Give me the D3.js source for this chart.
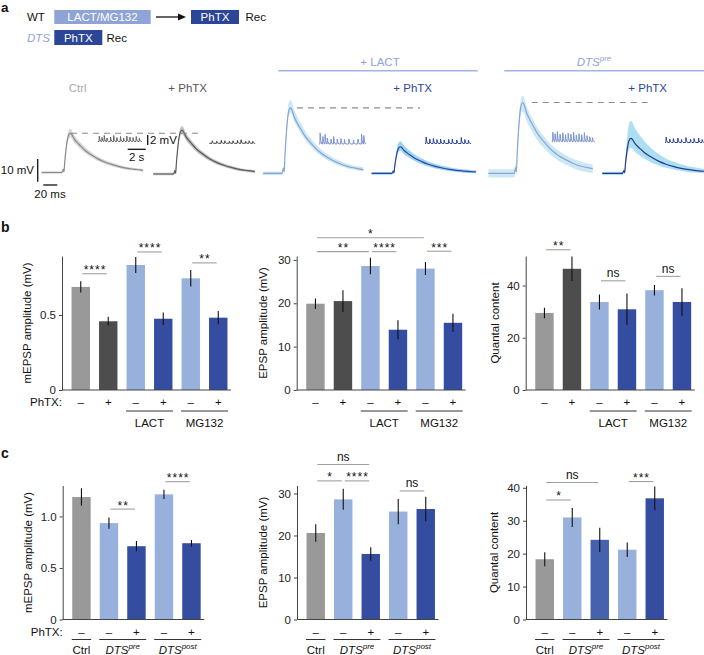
<!DOCTYPE html>
<html><head><meta charset="utf-8">
<script src="https://cdn.jsdelivr.net/npm/d3@7"></script>
<style>
body{margin:0;background:#fff}
svg{display:block}
text{font-family:"Liberation Sans",Arial,Helvetica,sans-serif}
</style>
</head><body>
<svg id="fig" width="704" height="655"></svg>
<script>
// ---------------- DATA ----------------
// panel b
const bPhTX = ["–","+","–","+","–","+"];
const bGroups = [["LACT",2,3],["MG132",4,5]];
const bMepsp = [0.687,0.458,0.833,0.475,0.744,0.482];
const bMepspErr = [0.037,0.030,0.053,0.042,0.055,0.044];
const bEpsp = [19.9,20.5,28.6,13.9,28.0,15.5];
const bEpspErr = [1.2,2.5,1.9,2.2,1.5,2.1];
const bQc = [29.5,46.4,33.7,30.9,38.2,33.7];
const bQcErr = [2.0,4.7,2.9,6.0,2.0,5.3];
const bMepspSig = [[0,1,"****",0.775],[2,3,"****",0.92],[4,5,"**",0.847]];
const bEpspSig = [[0,4,"*",35.1],[0,2,"**",31.9],[2,3,"****",31.9],[4,5,"***",32.0]];
const bQcSig = [[0,1,"**",53.7],[2,3,"ns",41.8],[4,5,"ns",43.5]];
const bMepspTicks = [0,0.5], bEpspTicks = [0,10,20,30], bQcTicks = [0,20,40];
// panel c
const cPhTX = ["–","–","+","–","+"];
const cGroups = [["Ctrl",0,0],["DTS|pre",1,2],["DTS|post",3,4]];
const cMepsp = [1.188,0.935,0.711,1.214,0.740];
const cMepspErr = [0.085,0.054,0.050,0.045,0.032];
const cEpsp = [20.6,28.6,15.6,25.7,26.3];
const cEpspErr = [2.1,2.5,1.6,3.0,2.9];
const cQc = [18.3,31.0,24.2,21.2,36.8];
const cQcErr = [2.1,2.9,3.7,2.2,3.6];
const cMepspSig = [[1,2,"**",1.071],[3,4,"****",1.337]];
const cEpspSig = [[0,2,"ns",36.9],[0,1,"*",33.0],[1,2,"****",33.0],[3,4,"ns",30.6]];
const cQcSig = [[0,2,"ns",41.6],[0,1,"*",36.3],[3,4,"***",41.9]];
const cMepspTicks = [0,0.5,1.0], cEpspTicks = [0,10,20,30], cQcTicks = [0,10,20,30,40];
// panel a: EPSP waveform (ms, fraction of peak)
const epspTime  = [-40,-31,-2,0,1,2,4,6,8,10,12,15,20,25,30,40,50,60,70,80,90,100,110,118];
const epspShape = [0,0,0,0.08,0.02,0.25,0.6,0.85,0.97,1,0.97,0.87,0.76,0.67,0.58,0.45,0.34,0.26,0.2,0.15,0.11,0.085,0.065,0.055];
const traceAmp   = [17.3,19.3,28.8,11.7,31.2,15.4];
const traceLo    = [16.0,18.0,27.5,10.5,29.0,12.0];
const traceHi    = [18.8,20.6,31.5,13.5,32.5,22.5];
const traceNoise = [0.5,0.5,0.8,0.6,1.8,0.7];
const traceStart = [-31,-31,-29,-31,-39,-31];
const traceEnd   = [114,114,114,118,111,118];
// mEPSP events: times (s) and amplitudes (mV)
const miniT = [
 [0.15,0.45,0.7,1.0,1.4,1.75,2.1,2.5,2.85,3.2,3.55,3.9,4.25,4.6],
 [0.3,0.8,1.3,1.7,2.2,2.6,3.1,3.5,4.0,4.4,4.8],
 [0.1,0.4,0.65,0.9,1.3,1.6,2.0,2.4,2.8,3.3,3.8,4.3,4.7,4.95],
 [0.1,0.5,0.9,1.3,1.7,2.1,2.6,3.0,3.5,4.0,4.4,4.8],
 [0.1,0.35,0.6,0.9,1.2,1.5,1.8,2.1,2.4,2.7,3.0,3.3,3.6,3.9,4.2,4.5],
 [0.1,0.5,0.9,1.4,1.8,2.3,2.8,3.2,3.7,4.1]];
const miniA = [
 [1.1,0.8,1.2,0.7,0.9,1.2,0.8,1.0,0.7,1.1,0.9,0.8,1.0,0.7],
 [0.5,0.4,0.6,0.5,0.4,0.5,0.6,0.7,0.4,0.5,0.4],
 [2.2,1.5,1.9,1.2,1.0,1.5,1.0,1.1,0.9,1.0,0.8,1.0,2.0,1.7],
 [1.3,0.9,1.0,0.8,0.9,0.7,0.8,0.9,0.7,1.2,0.8,0.7],
 [1.9,1.6,2.0,1.5,1.8,1.4,1.7,1.5,1.9,1.3,1.6,1.4,1.8,1.2,1.0,0.8],
 [1.1,0.7,0.8,0.9,0.6,1.0,0.7,0.8,0.9,0.6]];
const miniDur = [4.9,5.1,5.1,5.1,4.8,4.4];

// ---------------- STYLE / LAYOUT ----------------
const GRAY="#999999", DGRAY="#4d4d4d", LBLUE="#98b0dc", DBLUE="#354da0";
const bColors=[GRAY,DGRAY,LBLUE,DBLUE,LBLUE,DBLUE];
const cColors=[GRAY,LBLUE,DBLUE,LBLUE,DBLUE];
const cQcColors=[GRAY,LBLUE,"#4662ae",LBLUE,DBLUE];
const FS=11.5;
const svg=d3.select("#fig");

function txt(g,x,y,s,o={}){
  const t=g.append("text").attr("x",x).attr("y",y).attr("font-size",o.size||FS)
    .attr("fill",o.fill||"#111").attr("text-anchor",o.anchor||"start");
  if(o.weight) t.attr("font-weight",o.weight);
  if(o.italic) t.attr("font-style","italic");
  if(o.ls) t.attr("letter-spacing",o.ls);
  t.text(s); return t;
}
function dtsLabel(g,x,y,sup,anchor,fill){
  const t=g.append("text").attr("x",x).attr("y",y).attr("font-size",FS).attr("fill",fill||"#111")
    .attr("text-anchor",anchor||"middle").attr("font-style","italic");
  t.append("tspan").text("DTS");
  t.append("tspan").attr("font-size",8).attr("dy",-4.5).text(sup);
  return t;
}

// ---------------- PANEL LABELS ----------------
txt(svg,1,12,"a",{size:13.5,weight:"bold"});
txt(svg,1,232,"b",{size:14,weight:"bold"});
txt(svg,1,458,"c",{size:14,weight:"bold"});

// ---------------- PANEL a schematic ----------------
(function(){
  const g=svg.append("g");
  txt(g,27,21,"WT");
  g.append("rect").attr("x",54.3).attr("y",10).attr("width",96.4).attr("height",14).attr("fill","#8ea3d6");
  txt(g,102.5,21,"LACT/MG132",{anchor:"middle",fill:"#fff"});
  g.append("line").attr("x1",156).attr("x2",178).attr("y1",17).attr("y2",17).attr("stroke","#111").attr("stroke-width",1.3);
  g.append("path").attr("d","M178,13.5 L186,17 L178,20.5 Z").attr("fill","#111");
  g.append("rect").attr("x",191).attr("y",10).attr("width",48).attr("height",14).attr("fill","#2b4597");
  txt(g,215,21,"PhTX",{anchor:"middle",fill:"#fff"});
  txt(g,245.5,21,"Rec");
  txt(g,27,41.5,"DTS",{italic:true,fill:"#8ea3d6"});
  g.append("rect").attr("x",54.3).attr("y",30).attr("width",48).attr("height",15).attr("fill","#2b4597");
  txt(g,78.3,41.5,"PhTX",{anchor:"middle",fill:"#fff"});
  txt(g,106.5,41.5,"Rec");
})();

// ---------------- PANEL a traces ----------------
(function(){
  const g=svg.append("g");
  const stimX=[63.3,175,283.5,393.3,515.7,624];
  const baseY=[172.5,174,173.3,173.3,173.3,173.3];
  const lineCol=["#8a8a8a","#5a5a5a","#86a2d8","#2c45a0","#8aa4d6","#26398f"];
  const bandCol=["#d4d4d4","#bcbcbc","#c4e4f3","#8fd0ee","#c6e6f4","#a4dcf2"];
  const miniX=[97.7,209.3,319,425,551.7,665];
  const miniBase=[141.5,143.3,144,143.5,141.7,142.5];
  const miniCol=["#666","#444","#7b93d0","#2e44a0","#7b93d0","#2e44a0"];
  svg.append("defs").append("clipPath").attr("id","clipA").append("rect")
      .attr("x",0).attr("y",50).attr("width",704).attr("height",160);
  g.attr("clip-path","url(#clipA)");
  const pts=epspTime.map((t,i)=>[t,epspShape[i]]);
  traceAmp.forEach((amp,k)=>{
    const xs=d3.scaleLinear().domain([0,20]).range([stimX[k],stimX[k]+14]);
    const ys=d3.scaleLinear().domain([0,10]).range([baseY[k],baseY[k]-22.7]);
    const p=pts.filter(d=>d[0]>=traceStart[k]-9 && d[0]<=traceEnd[k]+4)
      .map(d=>[Math.min(Math.max(d[0],traceStart[k]),traceEnd[k]),d[1]]);
    const area=d3.area().x(d=>xs(d[0])).y0(d=>ys(d[1]*traceLo[k]-traceNoise[k]))
      .y1(d=>ys(d[1]*traceHi[k]+traceNoise[k])).curve(d3.curveMonotoneX);
    g.append("path").attr("d",area(p)).attr("fill",bandCol[k]).attr("opacity",0.9);
    const line=d3.line().x(d=>xs(d[0])).y(d=>ys(d[1]*amp)).curve(d3.curveMonotoneX);
    g.append("path").attr("d",line(p)).attr("fill","none").attr("stroke",lineCol[k]).attr("stroke-width",1.2);
  });
  const dashIdx=[0,2,4], dashX=[[71,200],[297,420],[531.7,650]];
  dashIdx.forEach((k,j)=>{
    const ys=d3.scaleLinear().domain([0,10]).range([baseY[k],baseY[k]-22.7]);
    g.append("line").attr("x1",dashX[j][0]).attr("x2",dashX[j][1]).attr("y1",ys(traceAmp[k])).attr("y2",ys(traceAmp[k]))
      .attr("stroke","#8c8c8c").attr("stroke-width",1.2).attr("stroke-dasharray","6,5");
  });
  miniT.forEach((ts,k)=>{
    const xs=d3.scaleLinear().domain([0,1]).range([miniX[k],miniX[k]+9]);
    const ys=d3.scaleLinear().domain([0,1]).range([miniBase[k],miniBase[k]-5]);
    const p=[[0,0]];
    ts.forEach((t,i)=>{const a=miniA[k][i];p.push([t,0],[t+0.03,a],[t+0.09,a*0.35],[t+0.2,0]);});
    p.push([miniDur[k],0]);
    g.append("path").attr("d",d3.line().x(d=>xs(d[0])).y(d=>ys(d[1]))(p))
      .attr("fill","none").attr("stroke",miniCol[k]).attr("stroke-width",1);
  });
  const sb=svg.append("g").attr("stroke","#111").attr("stroke-width",1.3);
  sb.append("line").attr("x1",37.7).attr("x2",37.7).attr("y1",159).attr("y2",181.7);
  sb.append("line").attr("x1",43.3).attr("x2",57.3).attr("y1",185).attr("y2",185);
  sb.append("line").attr("x1",147.7).attr("x2",147.7).attr("y1",135).attr("y2",145);
  sb.append("line").attr("x1",127.7).attr("x2",145.7).attr("y1",149.3).attr("y2",149.3);
  txt(svg,34,174,"10 mV",{anchor:"end"});
  txt(svg,50,198,"20 ms",{anchor:"middle"});
  txt(svg,150,144,"2 mV");
  txt(svg,136.7,161,"2 s",{anchor:"middle"});
  txt(svg,77.7,92,"Ctrl",{anchor:"middle",fill:"#aaaaaa"});
  txt(svg,187.7,92,"+ PhTX",{anchor:"middle",fill:"#555"});
  txt(svg,412.7,92,"+ PhTX",{anchor:"middle",fill:"#2c45a0"});
  txt(svg,647.7,92,"+ PhTX",{anchor:"middle",fill:"#2c45a0"});
  txt(svg,380,65.5,"+ LACT",{anchor:"middle",fill:"#8ea3d6"});
  dtsLabel(svg,594,65.5,"pre","middle","#8ea3d6");
  svg.append("line").attr("x1",278.3).attr("x2",477.7).attr("y1",70.7).attr("y2",70.7).attr("stroke","#9fb5e0").attr("stroke-width",1.5);
  svg.append("line").attr("x1",504.3).attr("x2",704).attr("y1",70.7).attr("y2",70.7).attr("stroke","#9fb5e0").attr("stroke-width",1.5);
})();

// ---------------- BAR PANELS ----------------
function barPanel(o){
  const g=svg.append("g");
  const n=o.vals.length;
  const x=d3.scaleBand().domain(d3.range(n)).range([o.axisX+5,o.axisX+5+27.5*n]).paddingInner(0.33).paddingOuter(0.165);
  const y=d3.scaleLinear().domain([0,o.max]).range([o.bottom,o.bottom-134]);
  const bw=x.bandwidth();
  g.selectAll("rect.bar").data(o.vals).join("rect").attr("class","bar")
    .attr("x",(d,i)=>x(i)).attr("width",bw).attr("y",d=>y(d)).attr("height",d=>y(0)-y(d))
    .attr("fill",(d,i)=>o.cols[i]);
  g.selectAll("line.err").data(o.vals).join("line").attr("class","err")
    .attr("x1",(d,i)=>x(i)+bw/2).attr("x2",(d,i)=>x(i)+bw/2)
    .attr("y1",(d,i)=>y(d-o.errs[i])).attr("y2",(d,i)=>y(d+o.errs[i]))
    .attr("stroke","#111").attr("stroke-width",1.1);
  const ax=g.append("g").attr("transform",`translate(${o.axisX},0)`)
    .call(d3.axisLeft(y).tickValues(o.ticks).tickSize(3).tickSizeOuter(0).tickPadding(3).tickFormat(o.fmt));
  ax.select(".domain").attr("stroke","#444");
  ax.selectAll(".tick line").attr("stroke","#444");
  ax.selectAll(".tick text").attr("font-size",FS).attr("fill","#222").attr("font-family","Liberation Sans, Arial, sans-serif");
  g.append("line").attr("x1",o.axisX).attr("x2",x.range()[1]-1).attr("y1",y(0)).attr("y2",y(0)).attr("stroke","#444");
  g.append("text").attr("transform",`translate(${o.labelX},${o.bottom-67}) rotate(-90)`)
    .attr("text-anchor","middle").attr("dy","0.35em").attr("font-size",FS).attr("fill","#111").text(o.label);
  o.sig.forEach(s=>{
    const x1=x(s[0])+bw/2+1.5, x2=x(s[1])+bw/2-1.5, yy=y(s[3]);
    g.append("line").attr("x1",x1).attr("x2",x2).attr("y1",yy).attr("y2",yy).attr("stroke","#a0a0a0").attr("stroke-width",1.1);
    if(s[2]==="ns") txt(g,(x1+x2)/2,yy-3.5,"ns",{anchor:"middle",size:12});
    else txt(g,(x1+x2)/2+0.5,yy+0.5,s[2],{anchor:"middle",size:12,ls:1});
  });
  o.signs.forEach((s,i)=>txt(g,x(i)+bw/2,o.bottom+o.signDy,s,{anchor:"middle"}));
  if(o.phLabel) txt(g,o.axisX,o.bottom+o.signDy,"PhTX:",{anchor:"end"});
  o.groups.forEach(gr=>{
    const x1=x(gr[1])-0.5, x2=x(gr[2])+bw+0.5;
    g.append("line").attr("x1",x1).attr("x2",x2).attr("y1",o.bottom+o.lineDy).attr("y2",o.bottom+o.lineDy).attr("stroke","#333").attr("stroke-width",1);
    const [name,sup]=gr[0].split("|");
    if(sup) dtsLabel(g,(x1+x2)/2,o.bottom+o.labDy,sup,"middle");
    else txt(g,(x1+x2)/2,o.bottom+o.labDy,name,{anchor:"middle"});
  });
}
const f1=d3.format(".1f"), f0=d3.format("d");
const fmtMepsp=d=>d===0?"0":f1(d);
const bRow={bottom:390,signDy:15.5,lineDy:21,labDy:36.5};
const cRow={bottom:619.5,signDy:16.5,lineDy:20,labDy:34};
barPanel({...bRow,axisX:62,max:0.893,ticks:bMepspTicks,fmt:fmtMepsp,vals:bMepsp,errs:bMepspErr,cols:bColors,
  sig:bMepspSig,signs:bPhTX,phLabel:true,groups:bGroups,label:"mEPSP amplitude (mV)",labelX:27});
barPanel({...bRow,axisX:296.7,max:30.9,ticks:bEpspTicks,fmt:f0,vals:bEpsp,errs:bEpspErr,cols:bColors,
  sig:bEpspSig,signs:bPhTX,groups:bGroups,label:"EPSP amplitude (mV)",labelX:263});
barPanel({...bRow,axisX:525.7,max:51.3,ticks:bQcTicks,fmt:f0,vals:bQc,errs:bQcErr,cols:bColors,
  sig:bQcSig,signs:bPhTX,groups:bGroups,label:"Quantal content",labelX:495});
barPanel({...cRow,axisX:62.7,max:1.3,ticks:cMepspTicks,fmt:fmtMepsp,vals:cMepsp,errs:cMepspErr,cols:cColors,
  sig:cMepspSig,signs:cPhTX,phLabel:true,groups:cGroups,label:"mEPSP amplitude (mV)",labelX:28});
barPanel({...cRow,axisX:297,max:31.9,ticks:cEpspTicks,fmt:f0,vals:cEpsp,errs:cEpspErr,cols:cColors,
  sig:cEpspSig,signs:cPhTX,groups:cGroups,label:"EPSP amplitude (mV)",labelX:263});
barPanel({...cRow,axisX:526,max:40.7,ticks:cQcTicks,fmt:f0,vals:cQc,errs:cQcErr,cols:cQcColors,
  sig:cQcSig,signs:cPhTX,groups:cGroups,label:"Quantal content",labelX:494});
</script>
</body></html>
